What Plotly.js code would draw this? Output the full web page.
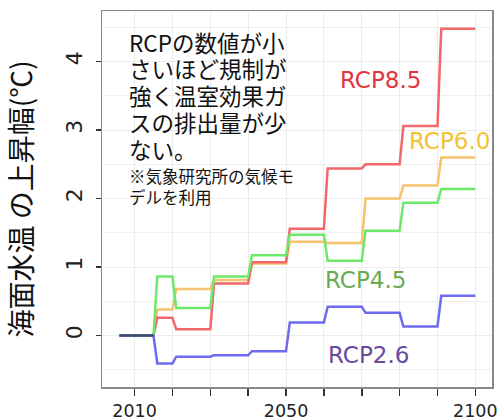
<!DOCTYPE html>
<html><head><meta charset="utf-8">
<script src="https://cdn.plot.ly/plotly-3.0.1.min.js"></script>
<style>html,body{margin:0;padding:0;background:#fff}</style>
</head><body><div id="chart" style="width:504px;height:420px"></div>
<script>
// decade segments (start year, end year)
const segStart = [2006, 2016, 2021, 2031, 2041, 2051, 2061, 2071, 2081, 2091];
const segEnd   = [2015, 2020, 2030, 2040, 2050, 2060, 2070, 2080, 2090, 2100];

// sea surface temperature rise (°C)
const rcp85 = [0, 0.26, 0.09, 0.76, 1.07, 1.56, 2.44, 2.50, 3.06, 4.48];
const rcp60 = [0, 0.38, 0.68, 0.81, 1.05, 1.37, 1.35, 2.00, 2.19, 2.60];
const rcp45 = [0, 0.86, 0.40, 0.86, 1.17, 1.47, 1.09, 1.53, 1.94, 2.14];
const rcp26 = [0, -0.41, -0.31, -0.29, -0.23, 0.19, 0.42, 0.33, 0.13, 0.58];

const baselineYears = [2006, 2015];
const baselineValues = [0, 0];

const seriesNames = ['RCP8.5', 'RCP6.0', 'RCP4.5', 'RCP2.6'];

const xTickYears = [2010, 2020, 2030, 2040, 2050, 2060, 2070, 2080, 2090, 2100];
const xTickText  = ['2010', '', '', '', '2050', '', '', '', '', '2100'];
const yTickVals  = [0, 1, 2, 3, 4];

const noteLines  = ['RCPの数値が小', 'さいほど規制が', '強く温室効果ガ', 'スの排出量が少', 'ない。'];
const smallLines = ['※気象研究所の気候モ', 'デルを利用'];
const yTitle = '海面水温 の上昇幅(℃)';

function steps(vals) {
  const x = [], y = [];
  for (let i = 0; i < vals.length; i++) {
    x.push(segStart[i], segEnd[i]);
    y.push(vals[i], vals[i]);
  }
  return {x, y};
}

function mk(vals, name, color) {
  const s = steps(vals);
  return {x: s.x, y: s.y, name, type: 'scatter', mode: 'lines',
          line: {color, width: 2.5}, hoverinfo: 'skip'};
}

const traces = [
  mk(rcp60, seriesNames[1], '#f6c36e'),
  mk(rcp85, seriesNames[0], '#f2686a'),
  mk(rcp45, seriesNames[2], '#6ee86a'),
  mk(rcp26, seriesNames[3], '#6d6cf0'),
  {x: baselineYears, y: baselineValues, type: 'scatter', mode: 'lines',
   line: {color: '#3e4d6c', width: 2.5}, hoverinfo: 'skip'}
];

const jp = '"Noto Sans CJK JP", "Noto Sans", sans-serif';
const annotations = [];
const noteY = [0.918, 0.848, 0.776, 0.705, 0.632];
noteLines.forEach((t, i) => annotations.push({
  xref: 'paper', yref: 'paper', x: 0.064, y: noteY[i], xanchor: 'left', yanchor: 'middle',
  text: t, showarrow: false, font: {family: jp, size: 22.5, color: '#111'}
}));
const smallY = [0.561, 0.505];
smallLines.forEach((t, i) => annotations.push({
  xref: 'paper', yref: 'paper', x: 0.064, y: smallY[i], xanchor: 'left', yanchor: 'middle',
  text: t, showarrow: false, font: {family: jp, size: 16.5, color: '#111'}
}));
const labelPos = [[0.7136, 0.8165, '#e2343c'], [0.891, 0.654, '#f2c232'],
                  [0.676, 0.285, '#6aab52'], [0.683, 0.084, '#6a4aa0']];
seriesNames.forEach((n, i) => annotations.push({
  xref: 'paper', yref: 'paper', x: labelPos[i][0], y: labelPos[i][1],
  xanchor: 'center', yanchor: 'middle', text: n, showarrow: false,
  font: {family: '"DejaVu Sans", sans-serif', size: 23, color: labelPos[i][2]}
}));

const layout = {
  width: 504, height: 420,
  margin: {l: 101.7, r: 12.3, t: 11, b: 32.7},
  paper_bgcolor: '#fff', plot_bgcolor: '#fff',
  showlegend: false,
  xaxis: {
    range: [2001.4, 2104.4],
    tickvals: xTickYears, ticktext: xTickText,
    ticks: 'outside', ticklen: 7, tickwidth: 1.5, tickcolor: '#333',
    showline: true, mirror: true, linecolor: '#888', linewidth: 1.5,
    showgrid: true, gridcolor: '#ececec', gridwidth: 1,
    zeroline: false,
    tickfont: {family: '"DejaVu Sans", sans-serif', size: 17.5, color: '#222'}
  },
  yaxis: {
    range: [-0.753, 4.74],
    tickvals: yTickVals,
    tickangle: -90,
    ticks: 'outside', ticklen: 5, tickwidth: 1.5, tickcolor: '#333',
    ticklabelstandoff: 5,
    showline: true, mirror: true, linecolor: '#888', linewidth: 1.5,
    showgrid: true, gridcolor: '#ececec', gridwidth: 1,
    minor: {dtick: 0.5, showgrid: true, gridcolor: '#f0f0f0', gridwidth: 1},
    zeroline: false,
    tickfont: {family: '"DejaVu Sans", sans-serif', size: 22, color: '#222'},
    title: {text: yTitle, standoff: 28, font: {family: jp, size: 28, color: '#111'}}
  },
  annotations
};

Plotly.newPlot('chart', traces, layout, {staticPlot: true, displayModeBar: false});
</script>
</body></html>
